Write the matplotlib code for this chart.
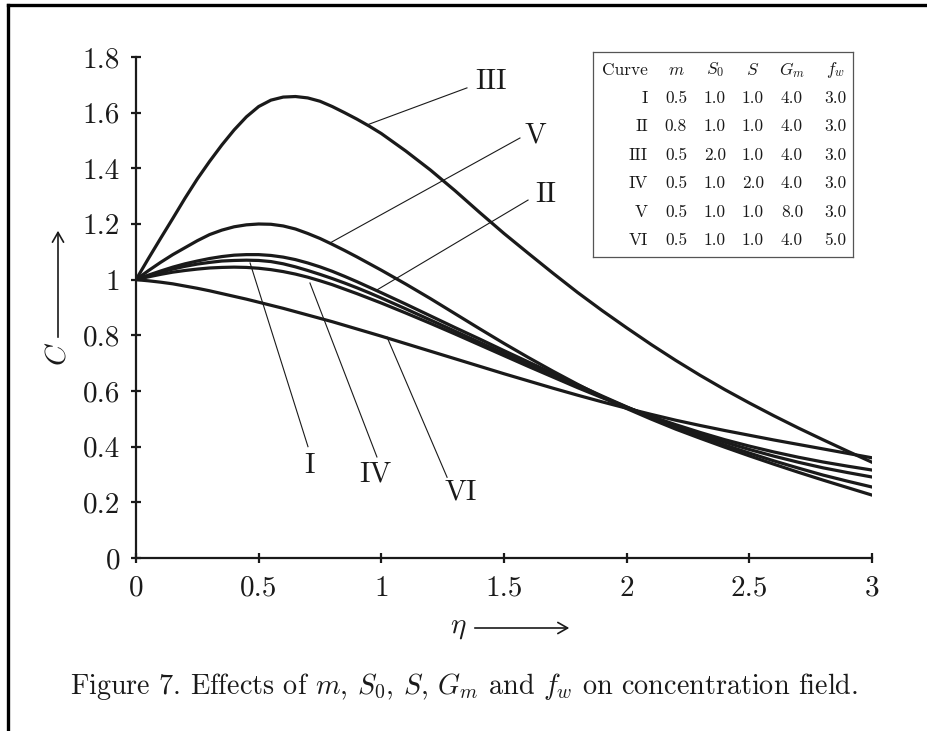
import numpy as np
import matplotlib
matplotlib.use("Agg")
import matplotlib.pyplot as plt
from matplotlib.lines import Line2D
from matplotlib.patches import FancyArrowPatch

plt.rcParams['font.family'] = 'cmr10'
plt.rcParams['mathtext.fontset'] = 'cm'
plt.rcParams['axes.formatter.use_mathtext'] = True

# values
eta = [0, 0.05, 0.1, 0.15, 0.2, 0.25, 0.3, 0.35, 0.4, 0.45, 0.5,
       0.55, 0.6, 0.65, 0.7, 0.75, 0.8, 0.85, 0.9, 0.95, 1.0,
       1.1, 1.2, 1.3, 1.4, 1.5, 1.6, 1.7, 1.8, 1.9, 2.0,
       2.1, 2.2, 2.3, 2.4, 2.5, 2.6, 2.7, 2.8, 2.9, 3.0]
c_I = [1.0, 1.014, 1.027, 1.038, 1.048, 1.056, 1.062, 1.067, 1.069, 1.07, 1.069,
       1.065, 1.057, 1.046, 1.033, 1.019, 1.004, 0.988, 0.971, 0.953, 0.934,
       0.895, 0.855, 0.815, 0.775, 0.735, 0.695, 0.656, 0.617, 0.579, 0.542,
       0.507, 0.474, 0.444, 0.416, 0.39, 0.366, 0.344, 0.324, 0.307, 0.291]
c_II = [1.0, 1.016, 1.031, 1.045, 1.057, 1.067, 1.076, 1.083, 1.088, 1.09, 1.09,
        1.087, 1.081, 1.072, 1.06, 1.046, 1.03, 1.012, 0.993, 0.973, 0.953,
        0.912, 0.87, 0.828, 0.787, 0.745, 0.704, 0.663, 0.622, 0.582, 0.543,
        0.505, 0.47, 0.437, 0.406, 0.377, 0.349, 0.323, 0.298, 0.276, 0.255]
c_III = [1.0, 1.075, 1.148, 1.22, 1.293, 1.362, 1.425, 1.484, 1.538, 1.585, 1.622,
         1.645, 1.656, 1.658, 1.653, 1.641, 1.622, 1.6, 1.577, 1.552, 1.525,
         1.462, 1.394, 1.32, 1.242, 1.166, 1.094, 1.023, 0.954, 0.889, 0.827,
         0.767, 0.71, 0.656, 0.605, 0.557, 0.511, 0.467, 0.425, 0.384, 0.344]
c_IV = [1.0, 1.01, 1.019, 1.027, 1.033, 1.038, 1.042, 1.044, 1.045, 1.044, 1.041,
        1.036, 1.029, 1.02, 1.009, 0.996, 0.982, 0.966, 0.95, 0.933, 0.916,
        0.88, 0.843, 0.805, 0.766, 0.727, 0.688, 0.65, 0.612, 0.576, 0.541,
        0.509, 0.479, 0.451, 0.425, 0.402, 0.381, 0.362, 0.345, 0.33, 0.316]
c_V = [1.0, 1.032, 1.062, 1.09, 1.115, 1.14, 1.162, 1.178, 1.19, 1.197, 1.2,
       1.199, 1.193, 1.182, 1.166, 1.148, 1.127, 1.105, 1.082, 1.058, 1.034,
       0.984, 0.932, 0.878, 0.824, 0.771, 0.72, 0.671, 0.624, 0.579, 0.537,
       0.499, 0.463, 0.43, 0.398, 0.367, 0.337, 0.308, 0.28, 0.253, 0.226]
c_VI = [1.0, 0.996, 0.991, 0.985, 0.977, 0.969, 0.96, 0.95, 0.94, 0.93, 0.919,
        0.908, 0.897, 0.885, 0.873, 0.861, 0.849, 0.836, 0.823, 0.81, 0.797,
        0.77, 0.743, 0.716, 0.689, 0.662, 0.636, 0.61, 0.585, 0.561, 0.538,
        0.516, 0.495, 0.476, 0.458, 0.441, 0.424, 0.408, 0.392, 0.376, 0.36]

xticks = [0, 0.5, 1, 1.5, 2, 2.5, 3]
xticklabels = ['0', '0.5', '1', '1.5', '2', '2.5', '3']
yticks = [0, 0.2, 0.4, 0.6, 0.8, 1.0, 1.2, 1.4, 1.6, 1.8]
yticklabels = ['0', '0.2', '0.4', '0.6', '0.8', '1', '1.2', '1.4', '1.6', '1.8']

# parameter table
tab_curve = ['I', 'II', 'III', 'IV', 'V', 'VI']
tab_m = ['0.5', '0.8', '0.5', '0.5', '0.5', '0.5']
tab_S0 = ['1.0', '1.0', '2.0', '1.0', '1.0', '1.0']
tab_S = ['1.0', '1.0', '1.0', '2.0', '1.0', '1.0']
tab_Gm = ['4.0', '4.0', '4.0', '4.0', '8.0', '4.0']
tab_fw = ['3.0', '3.0', '3.0', '3.0', '3.0', '5.0']

W, H = 928, 731
fig = plt.figure(figsize=(W / 100, H / 100), dpi=100)


def fx(px):
    return px / W


def fy(py):
    return 1 - py / H


ax = fig.add_axes([fx(136), fy(558), fx(872) - fx(136), fy(57) - fy(558)])

for c in [c_I, c_II, c_III, c_IV, c_V, c_VI]:
    ax.plot(eta, c, color='#1a1a1a', lw=2.3, solid_joinstyle='round')

ax.set_xlim(0, 3)
ax.set_ylim(0, 1.8)
ax.set_xticks(xticks)
ax.set_xticklabels(xticklabels)
ax.set_yticks(yticks)
ax.set_yticklabels(yticklabels)
for s in ['top', 'right']:
    ax.spines[s].set_visible(False)
for s in ['left', 'bottom']:
    ax.spines[s].set_linewidth(1.6)
    ax.spines[s].set_color('#1a1a1a')
ax.tick_params(direction='inout', length=7, width=1.6, labelsize=21,
               color='#1a1a1a', labelcolor='#1a1a1a')
ax.tick_params(axis='y', pad=8)
ax.tick_params(axis='x', pad=9)

# leader lines and curve labels
leaders = {
    'III': ((0.942, 1.556), (1.349, 1.689), (1.445, 1.71)),
    'V': ((0.791, 1.132), (1.565, 1.509), (1.627, 1.52)),
    'II': ((0.982, 0.963), (1.598, 1.286), (1.67, 1.304)),
    'I': ((0.465, 1.06), (0.701, 0.40), (0.706, 0.33)),
    'IV': ((0.709, 0.988), (0.982, 0.363), (0.978, 0.30)),
    'VI': ((1.023, 0.794), (1.268, 0.29), (1.325, 0.237)),
}
for name, (p0, p1, pt) in leaders.items():
    ax.plot([p0[0], p1[0]], [p0[1], p1[1]], color='#1a1a1a', lw=0.8)
    ax.text(pt[0], pt[1], name, fontsize=21, ha='center', va='center',
            color='#1a1a1a')

# table box
ax_tab = fig.add_axes([fx(593), fy(257), fx(853) - fx(593), fy(52) - fy(257)])
ax_tab.set_xticks([])
ax_tab.set_yticks([])
for s in ax_tab.spines.values():
    s.set_linewidth(0.9)
    s.set_color('#555555')

col_x = [648, 676, 715, 753, 792, 835]
header = ['Curve', '$m$', '$S_0$', '$S$', '$G_m$', '$f_w$']
row_y0 = 70
row_dy = 28.4
tfs = 12.5
for j, h in enumerate(header):
    ha = 'right' if j == 0 else 'center'
    fig.text(fx(col_x[j]), fy(row_y0), h, fontsize=tfs, ha=ha, va='center',
             color='#1a1a1a')
for i in range(len(tab_curve)):
    y = row_y0 + (i + 1) * row_dy
    vals = [tab_curve[i], tab_m[i], tab_S0[i], tab_S[i], tab_Gm[i], tab_fw[i]]
    for j, v in enumerate(vals):
        ha = 'right' if j == 0 else 'center'
        fig.text(fx(col_x[j]), fy(y), v, fontsize=tfs, ha=ha, va='center',
                 color='#1a1a1a')

# axis labels with arrows
fig.text(fx(58), fy(354), '$C$', fontsize=21, rotation=90, ha='center',
         va='center', color='#1a1a1a')
fig.patches.append(FancyArrowPatch(
    (fx(58), fy(340)), (fx(58), fy(228)), transform=fig.transFigure,
    arrowstyle='->,head_length=0.35,head_width=0.2', lw=1.2, color='#1a1a1a',
    mutation_scale=20))
fig.text(fx(458), fy(628), r'$\eta$', fontsize=21, ha='center', va='center',
         color='#1a1a1a')
fig.patches.append(FancyArrowPatch(
    (fx(472), fy(628)), (fx(572), fy(628)), transform=fig.transFigure,
    arrowstyle='->,head_length=0.35,head_width=0.2', lw=1.2, color='#1a1a1a',
    mutation_scale=20))

# caption
fig.text(fx(464), fy(686),
         'Figure 7. Effects of $m$, $S_0$, $S$, $G_m$ and $f_w$ on concentration field.',
         fontsize=20.3, ha='center', va='center', color='#1a1a1a')

# page border (left and top)
fig.add_artist(Line2D([fx(8), fx(8)], [0, fy(5)], transform=fig.transFigure,
                      color='black', lw=2.4))
fig.add_artist(Line2D([fx(8), 1], [fy(5), fy(5)], transform=fig.transFigure,
                      color='black', lw=2.4))

fig.savefig('out.png', dpi=100)
